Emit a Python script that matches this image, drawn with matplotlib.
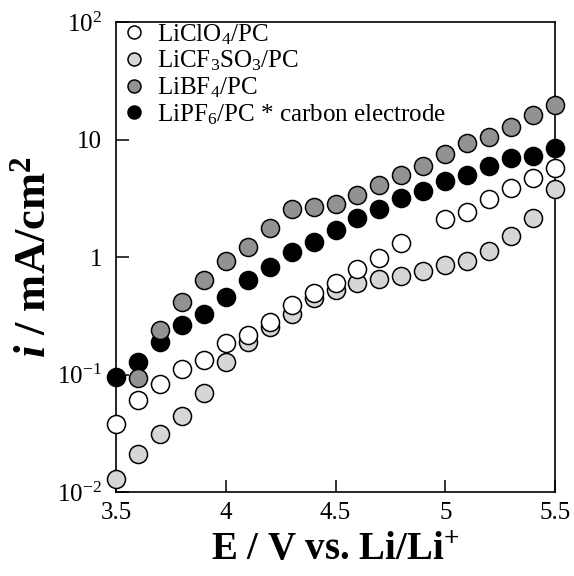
import numpy as np
import matplotlib
matplotlib.use("Agg")
import matplotlib.pyplot as plt

plt.rcParams['font.family'] = ['Liberation Serif', 'DejaVu Serif']
plt.rcParams['mathtext.fontset'] = 'custom'
plt.rcParams['mathtext.rm'] = 'Liberation Serif'
plt.rcParams['mathtext.it'] = 'Liberation Serif:italic:bold'
plt.rcParams['mathtext.bf'] = 'Liberation Serif:bold'

E = [3.5, 3.6, 3.7, 3.8, 3.9, 4.0, 4.1, 4.2, 4.3, 4.4, 4.5,
     4.6, 4.7, 4.8, 4.9, 5.0, 5.1, 5.2, 5.3, 5.4, 5.5]
nan = np.nan
LiClO4 = [0.038, 0.061, 0.083, 0.111, 0.133, 0.184, 0.217, 0.28, 0.39, 0.49, 0.6,
          0.79, 0.99, 1.31, nan, 2.1, 2.43, 3.1, 3.9, 4.7, 5.7]
LiCF3SO3 = [0.0128, 0.021, 0.031, 0.044, 0.07, 0.128, 0.19, 0.255, 0.33, 0.445, 0.52,
            0.6, 0.65, 0.69, 0.76, 0.85, 0.92, 1.13, 1.5, 2.15, 3.8]
LiBF4 = [nan, 0.093, 0.24, 0.416, 0.637, 0.92, 1.21, 1.75, 2.55, 2.65, 2.85,
         3.4, 4.1, 5.0, 5.95, 7.5, 9.3, 10.6, 12.9, 16.2, 19.7]
LiPF6 = [0.095, 0.128, 0.19, 0.264, 0.33, 0.46, 0.64, 0.83, 1.11, 1.35, 1.7,
         2.15, 2.55, 3.16, 3.65, 4.4, 5.0, 5.9, 6.9, 7.2, 8.4]

labels = ["LiClO$_4$/PC", "LiCF$_3$SO$_3$/PC", "LiBF$_4$/PC",
          "LiPF$_6$/PC * carbon electrode"]
series = [LiClO4, LiCF3SO3, LiBF4, LiPF6]
faces = ["white", "#d6d6d6", "#929292", "black"]
zorders = [6, 5, 4, 3]

xticks = [3.5, 4, 4.5, 5, 5.5]
xticklabels = ["3.5", "4", "4.5", "5", "5.5"]
yticks = [0.01, 0.1, 1, 10, 100]
yticklabels = ["$10^{-2}$", "$10^{-1}$", "1", "10", "$10^{2}$"]

fig = plt.figure(figsize=(5.74, 5.76), dpi=100)
ax = fig.add_axes([0.2021, 0.1458, 0.7648, 0.8160])

for s, lab, fc, z in zip(series, labels, faces, zorders):
    ax.plot(E, s, linestyle='none', marker='o', markersize=13,
            markerfacecolor=fc, markeredgecolor='black', markeredgewidth=1.1,
            label=lab, zorder=z, clip_on=False)

ax.set_yscale('log')
ax.set_xlim(3.5, 5.5)
ax.set_ylim(0.01, 100)
ax.set_xticks(xticks)
ax.set_xticklabels(xticklabels)
ax.set_yticks(yticks)
ax.set_yticklabels(yticklabels)
ax.yaxis.set_minor_locator(matplotlib.ticker.NullLocator())
ax.tick_params(direction='in', length=9, width=1.1, labelsize=18,
               top=False, right=False)
ax.tick_params(axis='x', pad=7)
ax.tick_params(axis='y', pad=10)
for sp in ax.spines.values():
    sp.set_linewidth(1.2)

ax.set_xlabel("E / V vs. Li/Li$^{\\mathbf{+}}$", fontsize=28, fontweight='bold', labelpad=6)
ax.set_ylabel("$i$ / mA/cm$^{\\mathbf{2}}$", fontsize=32, fontweight='bold', labelpad=2)

handles, labs = ax.get_legend_handles_labels()
leg = ax.legend(handles, labs, loc='upper left', frameon=False, fontsize=18,
                markerscale=0.72, handlelength=0.9, handletextpad=0.45,
                labelspacing=0.08, borderaxespad=0.0, borderpad=0.1,
                bbox_to_anchor=(0.01, 1.005))

fig.savefig("out.png", dpi=100)
